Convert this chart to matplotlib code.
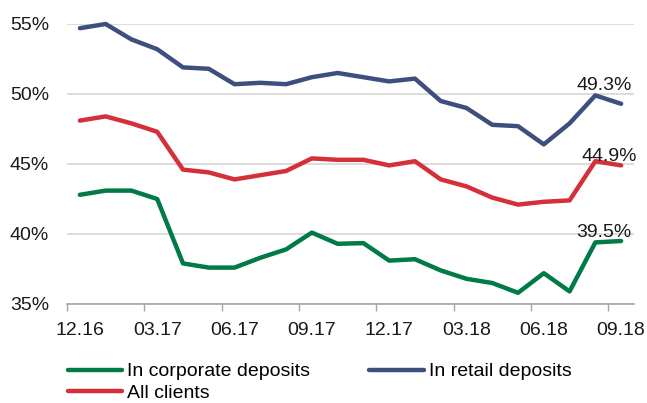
import matplotlib
matplotlib.use("Agg")
import matplotlib.pyplot as plt
import numpy as np

plt.rcParams["font.family"] = ["Liberation Sans", "DejaVu Sans"]

# Monthly shares, Dec 2016 .. Sep 2018
months = ["12.16", "01.17", "02.17", "03.17", "04.17", "05.17", "06.17", "07.17",
          "08.17", "09.17", "10.17", "11.17", "12.17", "01.18", "02.18", "03.18",
          "04.18", "05.18", "06.18", "07.18", "08.18", "09.18"]
corporate = [42.8, 43.1, 43.1, 42.5, 37.9, 37.6, 37.6, 38.3, 38.9, 40.1, 39.3,
             39.35, 38.1, 38.2, 37.4, 36.8, 36.5, 35.8, 37.2, 35.9, 39.4, 39.5]
retail = [54.7, 55.0, 53.9, 53.2, 51.9, 51.8, 50.7, 50.8, 50.7, 51.2, 51.5,
          51.2, 50.9, 51.1, 49.5, 49.0, 47.8, 47.7, 46.4, 47.9, 49.9, 49.3]
all_clients = [48.1, 48.4, 47.9, 47.3, 44.6, 44.4, 43.9, 44.2, 44.5, 45.4, 45.3,
               45.3, 44.9, 45.2, 43.9, 43.4, 42.6, 42.1, 42.3, 42.4, 45.2, 44.9]
yticks = [35, 40, 45, 50, 55]

GREEN = "#007A46"
BLUE = "#3E4E7D"
RED = "#D5303A"

fig = plt.figure(figsize=(6.47, 4.03), dpi=100)
ax = fig.add_axes([67 / 647, 1 - 304 / 403, (634 - 67) / 647, (304 - 24) / 403])

x = np.arange(len(months))
style = dict(lw=3.2, solid_capstyle="round", solid_joinstyle="round", clip_on=False)
l_corp, = ax.plot(x, corporate, color=GREEN, label="In corporate deposits", **style)
l_ret, = ax.plot(x, retail, color=BLUE, label="In retail deposits", **style)
l_all, = ax.plot(x, all_clients, color=RED, label="All clients", **style)

ax.set_xlim(-0.5, len(months) - 0.5)
ax.set_ylim(35, 55)
ax.set_yticks(yticks)
ax.set_yticklabels([f"{v}%" for v in yticks])
ax.yaxis.grid(True, color="#D9D9D9", lw=1.3)
ax.set_axisbelow(True)

major = x[::3]
ax.set_xticks(major)
ax.set_xticklabels([months[i] for i in major])
ax.set_xticks(major - 0.5, minor=True)
ax.tick_params(axis="x", which="major", length=0, pad=13, labelsize=14, colors="#1A1A1A")
ax.tick_params(axis="x", which="minor", length=5, width=1, color="#A6A6A6", direction="out")
ax.tick_params(axis="y", length=0, pad=13, labelsize=14, colors="#1A1A1A")

for s in ["top", "right", "left"]:
    ax.spines[s].set_visible(False)
ax.spines["bottom"].set_color("#A6A6A6")
ax.spines["bottom"].set_linewidth(1.2)

# end-of-series value labels
last = len(months) - 1
for series, dx, dy in [(retail, -17, 10), (all_clients, -12, 0), (corporate, -17, 0)]:
    ax.annotate(f"{series[last]:.1f}%", xy=(last, series[last]),
                xytext=(dx, dy), textcoords="offset pixels",
                ha="center", va="bottom", fontsize=14, color="#1A1A1A")

fig.legend(handles=[l_corp, l_all, l_ret], loc="upper left",
           bbox_to_anchor=(60 / 647, 1 - 355 / 403), ncol=2, frameon=False,
           fontsize=14, handlelength=2.8, handletextpad=0.25,
           columnspacing=3.05, labelspacing=0.2, borderaxespad=0)

fig.savefig("out.png", dpi=100)
